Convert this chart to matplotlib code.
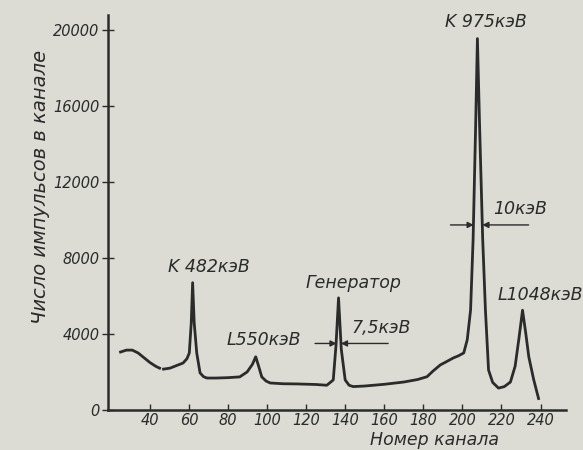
import matplotlib
matplotlib.use("Agg")
import matplotlib.pyplot as plt
import numpy as np

# Segment 1 (low-channel continuum)
ch1 = [25, 28, 31, 34, 37, 40, 43, 45]
cnt1 = [3050, 3150, 3150, 3000, 2750, 2500, 2300, 2200]

# Segment 2 (main spectrum)
ch2 = [47, 50.3, 54, 57, 59, 60.2, 61.2, 61.9, 62.7, 64, 65.7, 67.5, 69.3, 74, 80, 86, 89.8, 92.5, 94.2, 95.7, 97.3, 99.5, 101.6,
       108, 115.3, 125, 130.6, 133.9, 135.3, 136.6, 138, 140, 142, 144.1, 150, 160, 170, 177, 181.9,
       185, 188.7, 192, 195.4, 198, 200.7, 202.5, 204.2, 205.5, 206.8, 207.7, 208.8, 210.4, 211.8, 213.4, 215.5,
       218.5, 221.5, 224.6, 227, 229, 230.8, 232.5, 234, 236.5, 239]
cnt2 = [2150, 2200, 2350, 2470, 2700, 3000, 4600, 6700, 4600, 3000, 1950, 1750, 1680, 1680, 1700, 1740, 2000, 2400, 2800, 2300, 1740, 1520, 1420,
        1380, 1370, 1340, 1300, 1580, 3400, 5900, 3200, 1580, 1300, 1230, 1260, 1350, 1470, 1600, 1750,
        2050, 2370, 2550, 2740, 2850, 3000, 3700, 5260, 9000, 15000, 19550, 15000, 9000, 5260, 2100, 1450,
        1150, 1230, 1470, 2300, 3800, 5250, 4000, 2800, 1600, 600]

x_ticks = [40, 60, 80, 100, 120, 140, 160, 180, 200, 220, 240]
y_ticks = [0, 4000, 8000, 12000, 16000, 20000]

bg = '#dcdcd5'
ink = '#2b2b2b'
font = dict(family='DejaVu Sans', style='italic')

fig = plt.figure(figsize=(5.83, 4.5), dpi=100, facecolor=bg)
ax = fig.add_axes([0.185, 0.089, 0.785, 0.878], facecolor=bg)

ax.plot(ch1, cnt1, color=ink, lw=2.0, solid_joinstyle='round')
ax.plot(ch2, cnt2, color=ink, lw=2.0, solid_joinstyle='round')

ax.set_xlim(18.5, 252.8)
ax.set_ylim(0, 20800)
for s in ['top', 'right']:
    ax.spines[s].set_visible(False)
for s in ['left', 'bottom']:
    ax.spines[s].set_color(ink)
    ax.spines[s].set_linewidth(1.8)

ax.set_xticks(x_ticks)
ax.set_yticks(y_ticks)
ax.set_xticklabels([str(v) for v in x_ticks], fontsize=10.5, color=ink, **font)
ax.set_yticklabels([str(v) for v in y_ticks], fontsize=10.5, color=ink, **font)
ax.tick_params(axis='x', direction='in', length=4, width=1, colors=ink, pad=2)
ax.tick_params(axis='y', direction='inout', length=8, width=1, colors=ink, pad=2)

tk = dict(color=ink, fontsize=12.5, ha='center', va='center', clip_on=False, **font)
ax.text(70.3, 7530, 'K 482кэВ', **tk)
ax.text(98.5, 3700, 'L550кэВ', **tk)
ax.text(144, 6680, 'Генератор', **tk)
ax.text(158.5, 4300, '7,5кэВ', **tk)
ax.text(212, 20400, 'K 975кэВ', **tk)
ax.text(229.8, 10600, '10кэВ', **tk)
ax.text(240, 6050, 'L1048кэВ', **tk)

ap = dict(arrowstyle='-|>', color=ink, lw=1.0, mutation_scale=9, shrinkA=0, shrinkB=0)
# FWHM arrows for generator peak
ax.annotate('', xy=(135.6, 3500), xytext=(124.6, 3500), arrowprops=ap)
ax.annotate('', xy=(137.8, 3500), xytext=(162, 3500), arrowprops=ap)
# FWHM arrows for K975 peak
ax.annotate('', xy=(205.8, 9740), xytext=(193.9, 9740), arrowprops=ap)
ax.annotate('', xy=(210.2, 9740), xytext=(233.9, 9740), arrowprops=ap)

fig.text(0.069, 0.584, 'Число импульсов в канале', rotation=90, ha='center', va='center',
         fontsize=14, color=ink, **font)
fig.text(0.746, 0.002, 'Номер канала', ha='center', va='bottom', fontsize=12.5, color=ink, **font)

fig.savefig('out.png', dpi=100, facecolor=bg)
